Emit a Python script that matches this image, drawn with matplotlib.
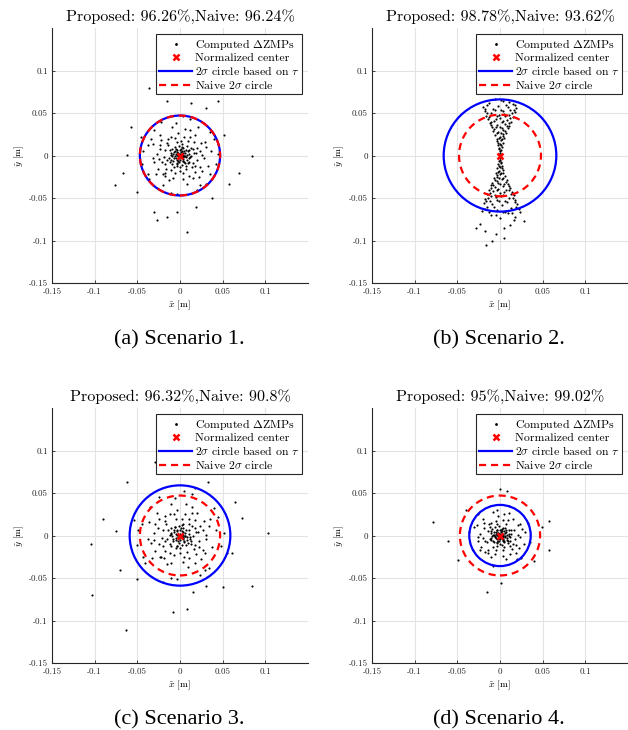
import numpy as np
import matplotlib
matplotlib.use('Agg')
import matplotlib.pyplot as plt
from matplotlib.patches import Circle
from matplotlib.lines import Line2D

plt.rcParams['font.family'] = ['cmr10', 'DejaVu Serif']
plt.rcParams['mathtext.fontset'] = 'cm'
plt.rcParams['axes.unicode_minus'] = False
plt.rcParams['axes.formatter.use_mathtext'] = True

# computed ZMP points (millimetres)
zmp_a = [(0,2),(-3,1),(4,-2),(2,5),(-5,-3),(6,3),(-2,-6),(1,-1),(-7,4),(8,-5),
         (3,9),(-9,-1),(5,-8),(-4,7),(10,2),(-1,11),(7,7),(-8,-7),(2,-11),(-11,3),
         (9,-9),(-6,10),(12,-2),(-3,-12),(4,1),(-1,-3),(3,-4),(-5,2),(6,-1),(0,7),
         (-9,8),(1,4),(-2,3),(5,5),(-6,-1),(3,-7),(-4,-9),(8,1),(-10,-5),(11,6),
         (-12,-8),(7,-12),(2,13),(-7,-13),(13,9),
         (1,0),(-1,2),(2,-3),(-2,-1),(0,-5),(3,3),(-4,-5),(5,0),(-6,5),(4,-6),
         (-3,4),(7,-2),(-7,-3),(1,8),(-1,-8),(9,5),(-8,2),(6,-9),(-5,8),(10,-3),
         (-10,1),(2,10),(-3,-10),(11,-8),(-9,-10),(8,11),(-12,6),(13,-1),(0,-13),(-13,-3),
         (15,-9),(-15,-5),(16,3),(-4,16),(7,-16),(-17,6),(9,17),(-10,-17),(18,-12),(-14,19),
         (20,9),(-21,-8),(4,-21),(-6,21),(23,-14),(-18,-21),(12,22),(-24,12),(26,1),(-25,-4),
         (15,-27),(-8,-27),(29,16),(-28,-22),(6,31),(-32,-3),(36,5),(-5,38),(24,-35),(-38,12),
         (15,8),(-14,12),(20,-5),(-18,-10),(5,22),(-6,-20),(25,15),(-22,18),(17,-19),(-20,-22),
         (28,-3),(-27,2),(3,-28),(-2,27),(12,30),(-13,-29),(30,10),(-30,-8),(22,-25),(-24,24),
         (18,24),(-17,-24),(33,-12),(-32,14),(8,-33),(-9,33),(26,-18),(-26,-16),(14,-14),(-15,15),
         (19,3),(-19,-2),(1,17),(0,-18),(24,5),(-23,8),(10,-24),(-11,22),(16,16),(-16,-16),
         (35,-22),(-34,20),(21,33),(-20,-35),
         (40,20),(-38,-22),(42,-10),(-43,5),(12,43),(-10,-44),(30,-33),(-31,30),(35,28),(-36,-28),
         (20,-40),(-22,40),(45,2),(-44,-10),(4,46),(-3,-45),
         (-36,80),(-58,34),(-62,1),(-76,-35),(-67,-20),(84,0),(69,-20),(52,24),(57,-34),(8,-90),
         (-27,-76),(-4,-66),(19,-61),(38,-50),(44,64),(31,56),(13,62),(-15,64),(-50,-43),(-46,22),
         (-31,-66),(-15,-72)]

zmp_b = [(0,3),(1,6),(-1,8),(2,10),(-2,12),(0,14),(3,15),(-3,17),(1,18),(-4,20),
         (5,21),(0,22),(-6,24),(3,25),(7,27),(-2,28),(-8,29),(4,30),(9,32),(-5,33),
         (0,34),(11,35),(-10,36),(6,37),(-12,38),(2,39),(13,40),(-7,41),(8,42),(-14,43),
         (0,44),(15,45),(-3,46),(-16,47),(10,48),(5,49),(-11,50),(17,51),(-18,52),(1,53),
         (12,54),(-8,55),(19,56),(-20,57),(-2,58),(7,60),(15,61),(-13,62),(3,64),(-6,66),
         (18,59),(10,63),(-15,60),(1,65),
         (0,5),(-1,9),(1,12),(-2,15),(2,19),(-1,21),(4,23),(-4,26),(1,27),(6,29),
         (-7,31),(2,32),(-9,34),(8,35),(-3,36),(10,38),(-11,40),(4,41),(-5,43),(12,44),
         (-13,45),(6,46),(-1,48),(14,50),(-15,50),(3,52),(-6,53),(16,54),(-17,55),(9,57),
         (0,-3),(-1,-6),(1,-8),(-2,-10),(2,-12),(0,-14),(-3,-15),(3,-17),(-1,-18),(4,-20),
         (-5,-21),(0,-22),(6,-24),(-3,-25),(-7,-27),(2,-28),(8,-29),(-4,-30),(-9,-32),(5,-33),
         (0,-34),(-11,-35),(10,-36),(-6,-37),(12,-38),(-2,-39),(-13,-40),(7,-41),(-8,-42),(14,-43),
         (0,-44),(-15,-45),(3,-46),(16,-47),(-10,-48),(-5,-49),(11,-50),(-17,-51),(18,-52),(-1,-53),
         (-12,-54),(8,-55),(-19,-56),(20,-57),(2,-58),(-7,-60),(-15,-61),(13,-62),(-3,-64),(6,-66),
         (22,-63),(-21,-65),(9,-68),(-10,-70),(17,-72),(0,-74),
         (0,-5),(1,-9),(-1,-12),(2,-15),(-2,-19),(1,-21),(-4,-23),(4,-26),(-1,-27),(-6,-29),
         (7,-31),(-2,-32),(9,-34),(-8,-35),(3,-36),(-10,-38),(11,-40),(-4,-41),(5,-43),(-12,-44),
         (13,-45),(-6,-46),(1,-48),(-14,-50),(15,-50),(-3,-52),(6,-53),(-16,-54),(17,-55),(-9,-57),
         (19,-60),(-18,-63),(4,-67),(-5,-70),(14,-68),(-13,-66),
         (-16,-105),(-9,-100),(-28,-85),(-18,-89),(5,-85),(16,-76),(28,-77),(23,-66),(5,-97),
         (-24,-80),(12,-82),(-5,-92)]

zmp_c = [(0,2),(-3,1),(4,-2),(2,5),(-5,-3),(6,3),(-2,-6),(1,-1),(-7,4),(8,-5),
         (3,9),(-9,-1),(5,-8),(-4,7),(10,2),(-1,11),(7,7),(-8,-7),(2,-11),(-11,3),
         (9,-9),(-6,10),(12,-2),(-3,-12),(4,1),(-1,-3),(3,-4),(-5,2),(6,-1),(0,7),
         (-10,9),(13,-6),(-12,-10),(4,14),(-5,-15),(14,11),
         (1,0),(-2,2),(3,-3),(-2,-2),(0,-5),(4,4),(-5,-5),(6,0),(-7,6),(5,-7),
         (-4,5),(8,-2),(-8,-4),(1,9),(-1,-9),(11,6),(-10,2),(7,-11),(-6,10),(12,-4),
         (-12,1),(2,12),(-4,-12),(13,-10),(-11,-12),(10,13),(-14,7),(15,-1),(0,-15),(-15,-4),
         (18,-11),(-18,-6),(19,4),(-5,19),(8,-19),(-20,7),(11,20),(-12,-20),(22,-14),(-17,23),
         (24,11),(-25,-10),(5,-25),(-7,25),(27,-17),(-22,-25),(14,26),(-29,14),(31,1),(-30,-5),
         (18,-32),(-10,-32),(35,19),(-33,-26),(7,37),(-38,-4),(42,6),(-6,44),(29,-41),(-44,14),
         (17,9),(-16,14),(22,-6),(-20,-12),(6,25),(-7,-23),(28,17),(-25,20),(19,-22),(-23,-25),
         (31,-4),(-30,3),(4,-31),(-3,30),(14,34),(-15,-33),(34,11),(-34,-9),(25,-28),(-27,27),
         (20,27),(-19,-27),(37,-14),(-36,16),(9,-37),(-10,37),(29,-20),(-29,-18),(16,-16),(-17,17),
         (21,4),(-21,-3),(2,19),(0,-20),(27,6),(-26,9),(11,-27),(-12,25),(18,18),(-18,-18),
         (45,22),(-43,-25),(48,-12),(-49,6),(14,49),(-11,-50),(34,-38),(-35,34),(40,32),(-41,-32),
         (23,-46),(-25,45),(51,3),(-50,-11),(5,52),(-4,-51),(55,-20),(-54,18),(-20,-55),(18,56),
         (-103,-70),(-63,-111),(-90,20),(-104,-10),(103,3),(84,-59),(73,21),(61,-21),(-62,63),(-29,86),
         (8,-86),(-8,-90),(15,-67),(33,63),(-50,-51),(31,-59),(-70,-40),(65,40),(-75,5),(50,-60)]

zmp_d = [(0,2),(-3,1),(4,-2),(2,5),(-5,-3),(6,3),(-2,-6),(1,-1),(-7,4),(8,-5),
         (3,9),(-9,-1),(5,-8),(-4,7),(10,2),(-1,11),(7,7),(-8,-7),(2,-11),(-11,3),
         (9,-9),(-6,10),(12,-2),(-3,-12),(4,1),(-1,-3),(3,-4),(-5,2),(6,-1),(0,7),
         (-9,8),(1,4),(-2,3),(5,5),(-6,-1),(3,-7),(-4,-9),(8,1),(-10,-5),(11,6),
         (1,0),(-1,2),(2,-2),(-2,-1),(0,-4),(3,2),(-3,-4),(4,0),(-5,4),(3,-5),
         (-2,3),(6,-2),(-6,-2),(1,6),(-1,-7),(7,4),(-7,1),(5,-7),(-4,6),(8,-3),
         (-8,1),(2,8),(-3,-8),(9,-6),(-7,-8),(6,9),(-10,5),(10,-1),(0,-10),(-10,-3),
         (12,-7),(-12,-4),(13,2),(-3,13),(5,-13),(-14,5),(7,14),(-8,-14),(15,-10),(-11,15),
         (16,7),(-17,-6),(3,-17),(-5,17),(19,-11),(-14,-17),(9,18),(-19,9),(21,1),(-20,-3),
         (12,-22),(-6,-22),(23,13),(-23,-17),(5,25),(-26,-2),(29,4),(-4,30),(20,-28),(-30,10),
         (13,7),(-12,10),(17,-4),(-15,-8),(4,18),(-5,-17),(21,12),(-19,15),(14,-16),(-17,-19),
         (24,-2),(-23,2),(3,-24),(-2,23),(10,26),(-11,-25),(26,8),(-26,-7),(19,-21),(-20,20),
         (15,20),(-14,-20),(28,-10),(-27,12),(7,-28),(-8,28),(22,-15),(-22,-13),(12,-12),(-13,13),
         (33,15),(-32,-17),(35,-8),(-36,4),(10,35),(-8,-36),(25,-27),(-26,25),
         (-78,16),(-61,-6),(58,17),(58,-17),(-15,-66),(1,-56),(0,55),(8,52),(49,10),(-49,-29),
         (40,-30),(-40,30)]

# circle radii [m]
r_proposed = [0.047, 0.066, 0.059, 0.036]
r_naive = [0.047, 0.048, 0.047, 0.047]
proposed_pct = ['96.26', '98.78', '96.32', '95']
naive_pct = ['96.24', '93.62', '90.8', '99.02']
captions = ['(a) Scenario 1.', '(b) Scenario 2.', '(c) Scenario 3.', '(d) Scenario 4.']
ticks = [-0.15, -0.1, -0.05, 0, 0.05, 0.1]
tick_labels = ['-0.15', '-0.1', '-0.05', '0', '0.05', '0.1']

fig = plt.figure(figsize=(6.28, 7.30), dpi=100)
W, H = 628.0, 730.0
boxes = [(52, 28), (372, 28), (52, 408), (372, 408)]
aw, ah = 256, 255

for i, pts in enumerate([zmp_a, zmp_b, zmp_c, zmp_d]):
    x0, y0 = boxes[i]
    ax = fig.add_axes([x0 / W, 1 - (y0 + ah) / H, aw / W, ah / H])
    p = np.array(pts) / 1000.0
    ax.scatter(p[:, 0], p[:, 1], s=2.4, c='k', marker='o', linewidths=0, zorder=2)
    ax.add_patch(Circle((0, 0), r_proposed[i], fill=False, ec='#0000ff', lw=1.6, zorder=3))
    ax.add_patch(Circle((0, 0), r_naive[i], fill=False, ec='#ff0000', lw=1.6,
                        ls=(0, (3.2, 2.2)), zorder=4))
    ax.plot([0], [0], 'x', color='#ff0000', ms=5, mew=1.8, zorder=5)

    ax.set_xlim(-0.15, 0.15)
    ax.set_ylim(-0.15, 0.15)
    ax.set_xticks(ticks)
    ax.set_yticks(ticks)
    ax.set_xticklabels(tick_labels, fontsize=6.5)
    ax.set_yticklabels(tick_labels, fontsize=6.5)
    ax.tick_params(direction='in', length=2.5, width=0.6, colors='#262626', pad=3)
    ax.grid(True, color='#e3e3e3', lw=0.8)
    ax.set_axisbelow(True)
    for s in ['top', 'right']:
        ax.spines[s].set_visible(False)
    for s in ['left', 'bottom']:
        ax.spines[s].set_color('#262626')
        ax.spines[s].set_linewidth(0.8)
    ax.set_xlabel(r'$\tilde{x}$ [m]', fontsize=7, labelpad=2)
    ax.set_ylabel(r'$\tilde{y}$ [m]', fontsize=7, labelpad=2)
    ax.set_title('Proposed: %s%%,Naive: %s%%' % (proposed_pct[i], naive_pct[i]),
                 fontsize=11.6, pad=5)

    handles = [Line2D([], [], ls='none', marker='.', ms=2, color='k'),
               Line2D([], [], ls='none', marker='x', ms=5, mew=1.8, color='#ff0000'),
               Line2D([], [], color='#0000ff', lw=1.6),
               Line2D([], [], color='#ff0000', lw=1.6, ls=(0, (3.2, 2.2)))]
    labels = [r'Computed $\Delta$ZMPs', 'Normalized center',
              r'$2\sigma$ circle based on $\tau$', r'Naive $2\sigma$ circle']
    leg = ax.legend(handles, labels, loc='upper right', fontsize=8.5, fancybox=False,
                    edgecolor='#262626', framealpha=1, handlelength=2.8,
                    handletextpad=0.2, borderpad=0.25, labelspacing=0.1,
                    borderaxespad=0.5)
    leg.get_frame().set_linewidth(0.8)

    fig.text((x0 + aw / 2 - 1) / W, 1 - (y0 + 312) / H, captions[i],
             family='Liberation Serif', fontsize=16, ha='center', va='center')

fig.savefig('out.png', dpi=100)
